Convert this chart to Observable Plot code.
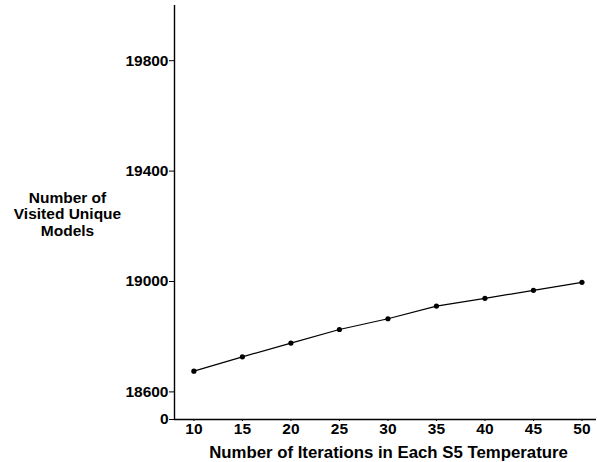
<!DOCTYPE html>
<html>
<head>
<meta charset="utf-8">
<script src="https://cdn.jsdelivr.net/npm/d3@7"></script>
<script src="https://cdn.jsdelivr.net/npm/@observablehq/plot@0.6"></script>
<style>
  html, body { margin: 0; padding: 0; background: #fff; }
  #chart svg { display: block; }
</style>
</head>
<body>
<div id="chart"></div>
<script>
const iterations = [10, 15, 20, 25, 30, 35, 40, 45, 50];
const visitedModels = [18675, 18727, 18777, 18826, 18865, 18911, 18939, 18968, 18997];
const yTicks = [18500, 18600, 19000, 19400, 19800];
const yTickLabels = ["0", "18600", "19000", "19400", "19800"];
const xTicks = [10, 15, 20, 25, 30, 35, 40, 45, 50];
const yTitle = "Number of\nVisited Unique\nModels";
const xTitle = "Number of Iterations in Each S5 Temperature";

const data = iterations.map((x, i) => ({x, y: visitedModels[i]}));
const font = "Arial, 'Liberation Sans', sans-serif";

const chart = Plot.plot({
  width: 597,
  height: 462,
  marginLeft: 174,
  marginRight: 1,
  marginTop: 5,
  marginBottom: 43,
  style: {fontFamily: font, fontSize: "15.5px", fontWeight: "bold", color: "#000", background: "#fff"},
  x: {domain: [8, 51.5]},
  y: {domain: [18500, 20000]},
  marks: [
    Plot.axisX({ticks: xTicks, tickSize: 2, tickPadding: 1, fontSize: 15.5, fontWeight: "bold",
      label: null}),
    Plot.text([xTitle], {frameAnchor: "bottom", dy: 38, textAnchor: "middle", dx: 3,
      fontSize: 16.8, fontWeight: "bold", fill: "#000"}),
    Plot.axisY({ticks: yTicks, tickSize: 5, tickPadding: 1, fontSize: 15.5, fontWeight: "bold",
      tickFormat: d => yTickLabels[yTicks.indexOf(d)], label: null}),
    Plot.ruleX([8], {y1: 18500, y2: 20000, stroke: "#000", strokeWidth: 1.4}),
    Plot.ruleY([18500], {stroke: "#000", strokeWidth: 1.4}),
    Plot.text([yTitle], {frameAnchor: "left", y: () => 19244, dx: -107, textAnchor: "middle",
      lineHeight: 1.06, fontSize: 15.5, fontWeight: "bold", fill: "#000"}),
    Plot.line(data, {x: "x", y: "y", stroke: "#000", strokeWidth: 1.2}),
    Plot.dot(data, {x: "x", y: "y", r: 2.6, fill: "#000", stroke: "none"})
  ]
});
document.getElementById("chart").appendChild(chart);
</script>
</body>
</html>
